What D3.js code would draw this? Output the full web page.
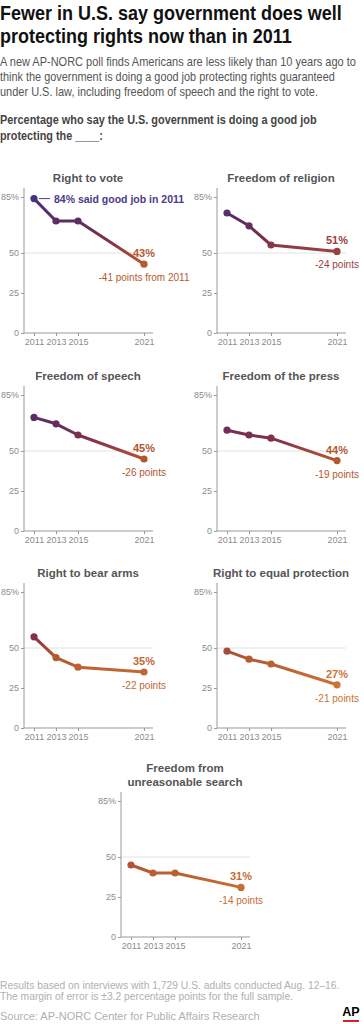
<!DOCTYPE html>
<html>
<head>
<meta charset="utf-8">
<script src="https://cdn.jsdelivr.net/npm/d3@7/dist/d3.min.js"></script>
<style>
body { margin: 0; background: #fff; }
svg { display: block; font-family: "Liberation Sans", Arial, sans-serif; }
</style>
</head>
<body>
<script>
// data
var years = [2011, 2013, 2015, 2021];
var yTicks = [0, 25, 50, 85];
var rights = ["Right to vote", "Freedom of religion", "Freedom of speech", "Freedom of the press",
   "Right to bear arms", "Right to equal protection", "Freedom from|unreasonable search"];
var rightToVote = [84, 70, 70, 43];
var freedomOfReligion = [75, 67, 55, 51];
var freedomOfSpeech = [71, 67, 60, 45];
var freedomOfPress = [63, 60, 58, 44];
var rightToBearArms = [57, 44, 38, 35];
var equalProtection = [48, 43, 40, 27];
var unreasonableSearch = [45, 40, 40, 31];
var changeLabels = ["-41 points from 2011", "-24 points", "-26 points", "-19 points",
   "-22 points", "-21 points", "-14 points"];

var series = [rightToVote, freedomOfReligion, freedomOfSpeech, freedomOfPress,
   rightToBearArms, equalProtection, unreasonableSearch];

var W = 364, H = 1024;

var svg = d3.select("body").append("svg")
   .attr("width", W)
   .attr("height", H);

// value -> colour, purple at the top, orange at the bottom
var color = d3.scaleLinear()
   .domain([27, 44, 57, 70, 85])
   .range(["#cb7436", "#b5582f", "#83304a", "#5c2d63", "#47317f"]);

var x = d3.scaleLinear().domain([2011, 2021]).range([34, 144]);
var y = d3.scaleLinear().domain([0, 85]).range([136, 0]);

// vertical gradient in the panel's own coordinates
var grad = svg.append("defs").append("linearGradient")
   .attr("id", "lineGrad")
   .attr("gradientUnits", "userSpaceOnUse")
   .attr("x1", 0).attr("x2", 0)
   .attr("y1", y(85)).attr("y2", y(25));
d3.range(85, 24, -5).forEach(function(v) {
   grad.append("stop")
      .attr("offset", (85 - v) / 60)
      .attr("stop-color", color(v));
});

// header lines: [text, baseline, width]; squeezed a bit to the reference's narrower face
function block(lines, size, weight, fill) {
   lines.forEach(function(l) {
      var t = svg.append("text")
         .attr("font-size", size)
         .attr("font-weight", weight)
         .attr("fill", fill)
         .text(l[0]);
      var k = Math.min(1, l[2] / t.node().getComputedTextLength());
      t.attr("transform", "translate(0," + l[1] + ") scale(" + k + ",1)");
   });
}

block([["Fewer in U.S. say government does well", 20, 342],
       ["protecting rights now than in 2011", 43, 292]], 21, "bold", "#111");

block([["A new AP-NORC poll finds Americans are less likely than 10 years ago to", 66, 356],
       ["think the government is doing a good job protecting rights guaranteed", 81, 335],
       ["under U.S. law, including freedom of speech and the right to vote.", 96, 318]], 12, "normal", "#555");

block([["Percentage who say the U.S. government is doing a good job", 124, 317],
       ["protecting the ____:", 140, 103]], 12, "bold", "#444");

// panel placement
var cols = [0, 193];
var rowTop = [197, 395, 592, 801];

var line = d3.line()
   .x(function(d) { return x(d.year); })
   .y(function(d) { return y(d.value); });

series.forEach(function(values, i) {
   var row = Math.floor(i / 2);
   var px = i === 6 ? 97 : cols[i % 2];
   var g = svg.append("g")
      .attr("transform", "translate(" + px + "," + rowTop[row] + ")");

   var data = years.map(function(yr, j) { return { year: yr, value: values[j] }; });

   // panel title
   var lines = rights[i].split("|");
   var tt = g.append("text")
      .attr("text-anchor", "middle")
      .attr("font-size", 11.5)
      .attr("font-weight", "bold")
      .attr("fill", "#555");
   lines.forEach(function(t, k) {
      tt.append("tspan")
         .attr("x", 88)
         .attr("y", -15 - (lines.length - 1 - k) * 14)
         .text(t);
   });

   // 50 gridline
   g.append("line")
      .attr("x1", 24).attr("x2", 153)
      .attr("y1", y(50)).attr("y2", y(50))
      .attr("stroke", "#e2e2e2");

   // axes
   var yAxis = d3.axisLeft(y)
      .tickValues(yTicks)
      .tickSize(3)
      .tickPadding(2)
      .tickFormat(function(d) { return d === 85 ? "85%" : d; });
   var ya = g.append("g")
      .attr("transform", "translate(24,0)")
      .call(yAxis);
   ya.select(".domain").remove();
   ya.append("line")
      .attr("y1", y(0)).attr("y2", y(85) - 9)
      .attr("stroke", "#999");

   var xAxis = d3.axisBottom(x)
      .tickValues(years)
      .tickSize(3)
      .tickPadding(3)
      .tickFormat(d3.format("d"));
   var xa = g.append("g")
      .attr("transform", "translate(0," + y(0) + ")")
      .call(xAxis);
   xa.select(".domain").remove();
   xa.append("line")
      .attr("x1", 24).attr("x2", 153)
      .attr("stroke", "#999");

   g.selectAll(".tick line").attr("stroke", "#999");
   g.selectAll(".tick text")
      .attr("fill", "#8c8c8c")
      .attr("font-size", 9)
      .attr("font-family", "\"Liberation Sans\", Arial, sans-serif");

   // the line
   g.append("path")
      .datum(data)
      .attr("d", line)
      .attr("fill", "none")
      .attr("stroke", "url(#lineGrad)")
      .attr("stroke-width", 3)
      .attr("stroke-linejoin", "round");

   g.selectAll(".dot")
      .data(data)
      .enter().append("circle")
      .attr("cx", function(d) { return x(d.year); })
      .attr("cy", function(d) { return y(d.value); })
      .attr("r", 3.6)
      .attr("fill", function(d) { return color(d.value); });

   // end labels
   var last = data[data.length - 1];
   g.append("text")
      .attr("x", x(last.year))
      .attr("y", y(last.value) - 7)
      .attr("text-anchor", "middle")
      .attr("font-size", 11)
      .attr("font-weight", "bold")
      .attr("fill", color(last.value))
      .text(last.value + "%");
   g.append("text")
      .attr("x", x(last.year))
      .attr("y", y(last.value) + 17)
      .attr("text-anchor", "middle")
      .attr("font-size", 10)
      .attr("fill", color(last.value))
      .text(changeLabels[i]);

   // first panel callout
   if (i === 0) {
      var first = data[0];
      g.append("line")
         .attr("x1", x(first.year) + 5).attr("x2", x(first.year) + 16)
         .attr("y1", y(first.value)).attr("y2", y(first.value))
         .attr("stroke", "#4b3a8a");
      g.append("text")
         .attr("x", x(first.year) + 20)
         .attr("y", y(first.value) + 4)
         .attr("font-size", 10.5)
         .attr("font-weight", "bold")
         .attr("fill", "#4b3a8a")
         .text(first.value + "% said good job in 2011");
   }
});

// footer
var note = svg.append("text")
   .attr("font-size", 10.3)
   .attr("fill", "#b0b0b0");
["Results based on interviews with 1,729 U.S. adults conducted Aug. 12\u201316.",
 "The margin of error is \u00b13.2 percentage points for the full sample."].forEach(function(t, i) {
   note.append("tspan").attr("x", 0).attr("y", 989 + i * 11).text(t);
});

svg.append("text")
   .attr("x", 0).attr("y", 1020)
   .attr("font-size", 11)
   .attr("fill", "#b0b0b0")
   .text("Source: AP-NORC Center for Public Affairs Research");

svg.append("text")
   .attr("x", 351).attr("y", 1016)
   .attr("text-anchor", "middle")
   .attr("font-size", 12.5)
   .attr("font-weight", "bold")
   .attr("fill", "#000")
   .text("AP");
svg.append("rect")
   .attr("x", 343).attr("y", 1020)
   .attr("width", 16).attr("height", 2)
   .attr("fill", "#d2232a");
</script>
</body>
</html>
